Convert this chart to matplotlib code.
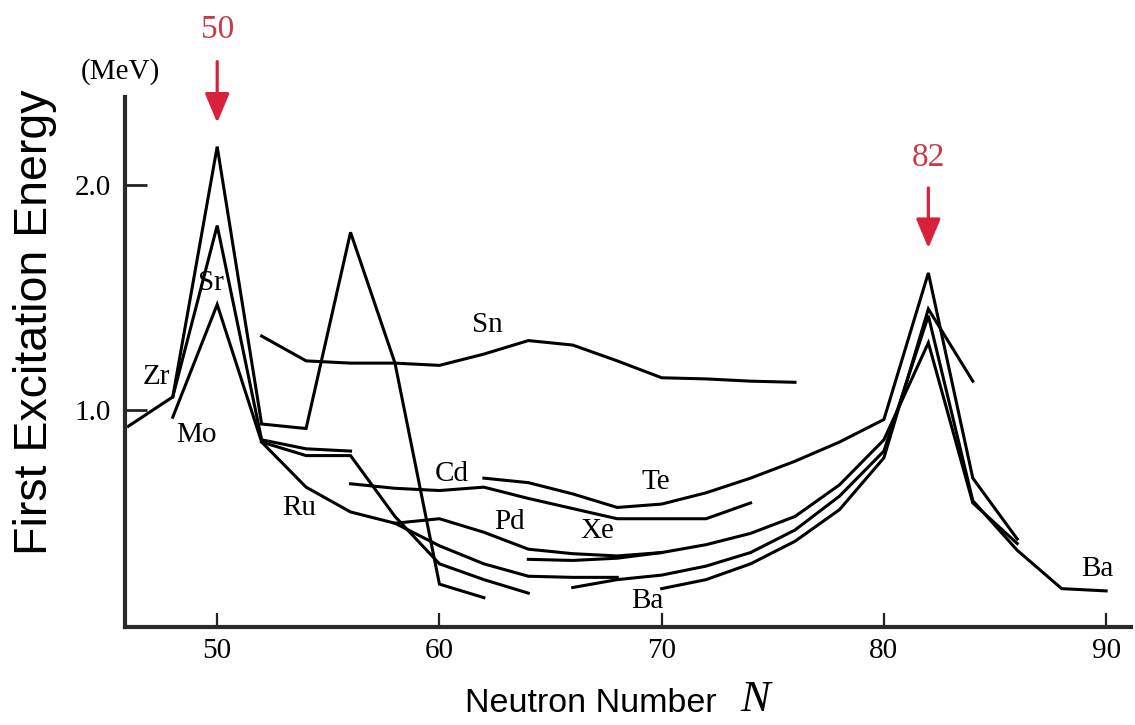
import matplotlib
matplotlib.use("Agg")
import matplotlib.pyplot as plt

# Energy of the first excited state (MeV) versus neutron number N
zr_n = [46, 48, 50, 52, 54, 56, 58, 60, 62]
zr_e = [0.93, 1.06, 2.17, 0.94, 0.92, 1.79, 1.21, 0.23, 0.17]

sr_n = [48, 50, 52, 54, 56]
sr_e = [1.06, 1.82, 0.87, 0.83, 0.82]

mo_n = [48, 50, 52, 54, 56, 58, 60, 62, 64]
mo_e = [0.97, 1.47, 0.86, 0.80, 0.80, 0.53, 0.32, 0.25, 0.19]

ru_n = [52, 54, 56, 58, 60, 62, 64, 66, 68]
ru_e = [0.86, 0.66, 0.55, 0.50, 0.40, 0.32, 0.265, 0.26, 0.26]

pd_n = [58, 60, 62, 64, 66, 68, 70]
pd_e = [0.50, 0.52, 0.46, 0.385, 0.365, 0.355, 0.37]

cd_n = [56, 58, 60, 62, 64, 66, 68, 70, 72, 74]
cd_e = [0.675, 0.655, 0.645, 0.66, 0.61, 0.565, 0.52, 0.52, 0.52, 0.59]

sn_n = [52, 54, 56, 58, 60, 62, 64, 66, 68, 70, 72, 74, 76]
sn_e = [1.33, 1.22, 1.21, 1.21, 1.20, 1.25, 1.31, 1.29, 1.22, 1.145, 1.14, 1.13, 1.125]

te_n = [62, 64, 66, 68, 70, 72, 74, 76, 78, 80, 82, 84, 86]
te_e = [0.70, 0.68, 0.63, 0.57, 0.585, 0.635, 0.70, 0.775, 0.86, 0.96, 1.61, 0.70, 0.43]

xe_n = [64, 66, 68, 70, 72, 74, 76, 78, 80, 82, 84, 86]
xe_e = [0.34, 0.335, 0.345, 0.37, 0.405, 0.455, 0.53, 0.67, 0.87, 1.30, 0.59, 0.41]

ba_n = [66, 68, 70, 72, 74, 76, 78, 80, 82, 84, 86, 88, 90]
ba_e = [0.215, 0.25, 0.27, 0.31, 0.37, 0.47, 0.62, 0.82, 1.42, 0.60, 0.38, 0.21, 0.20]

ce_n = [70, 72, 74, 76, 78, 80, 82, 84]
ce_e = [0.21, 0.25, 0.32, 0.42, 0.56, 0.79, 1.45, 1.13]

series = [(zr_n, zr_e), (sr_n, sr_e), (mo_n, mo_e), (ru_n, ru_e), (pd_n, pd_e),
          (cd_n, cd_e), (sn_n, sn_e), (te_n, te_e), (xe_n, xe_e), (ba_n, ba_e),
          (ce_n, ce_e)]

# Element names placed beside their curves
label_text = ["Zr", "Sr", "Mo", "Ru", "Cd", "Pd", "Sn", "Te", "Xe", "Ba", "Ba"]
label_n = [47.25, 49.73, 49.05, 53.69, 60.54, 63.15, 62.16, 69.73, 67.12, 69.37, 89.59]
label_e = [1.147, 1.564, 0.893, 0.569, 0.720, 0.507, 1.378, 0.684, 0.467, 0.156, 0.298]

# Magic numbers
magic_n = [50, 82]
magic_tip = [2.276, 1.72]
magic_tail = [2.547, 1.987]
magic_text_e = [2.689, 2.12]

x_ticks = [50, 60, 70, 80, 90]
y_ticks = [1.0, 2.0]

SERIF = ["Liberation Serif", "DejaVu Serif"]
SANS = ["Liberation Sans", "DejaVu Sans"]
RED = "#d8213a"
TEXT_RED = "#c93a48"

fig = plt.figure(figsize=(11.35, 7.25), dpi=100)
ax = fig.add_axes([0.1101, 0.1352, 0.8864, 0.731])

for n, e in series:
    ax.plot(n, e, color="black", lw=2.2, solid_joinstyle="miter")

for t, n, e in zip(label_text, label_n, label_e):
    ax.text(n, e, t, family=SERIF, fontsize=21, ha="center", va="center")

for n, tip, tail, te in zip(magic_n, magic_tip, magic_tail, magic_text_e):
    ax.annotate("", xy=(n, tip), xytext=(n, tail), xycoords="data",
                arrowprops=dict(arrowstyle="-|>,head_length=1.0,head_width=0.42",
                                color=RED, lw=2.3, mutation_scale=18,
                                shrinkA=0, shrinkB=0),
                annotation_clip=False)
    ax.text(n, te, str(n), family=SERIF, fontsize=24, color=TEXT_RED,
            ha="center", va="center", clip_on=False)

ax.set_xlim(45.85, 91.12)
ax.set_ylim(0.04, 2.39)

for side in ("top", "right"):
    ax.spines[side].set_visible(False)
for side in ("left", "bottom"):
    ax.spines[side].set_linewidth(3)
    ax.spines[side].set_color("#2a2a2a")

ax.set_xticks(x_ticks)
ax.set_xticklabels([str(v) for v in x_ticks], family=SERIF, fontsize=21)
ax.set_yticks(y_ticks)
ax.set_yticklabels([f"{v:.1f}" for v in y_ticks], family=SERIF, fontsize=21)
ax.tick_params(axis="x", direction="in", length=10, width=1.6, pad=8, color="#222222")
ax.tick_params(axis="y", direction="in", length=16, width=2.0, pad=10, color="#222222")

fig.text(120 / 1135, 1 - 72 / 725, "(MeV)", family=SERIF, fontsize=21,
         ha="center", va="center")
fig.text(35 / 1135, 0.556, "First Excitation Energy", family=SANS, fontsize=33.5,
         rotation=90, ha="center", va="center")
fig.text(717 / 1135, 1 - 703 / 725, "Neutron Number", family=SANS, fontsize=24.5,
         ha="right", va="center")
fig.text(755 / 1135, 1 - 700 / 725, "N", family=SERIF, style="italic", fontsize=32,
         ha="center", va="center")

fig.savefig("out.png", dpi=100)
